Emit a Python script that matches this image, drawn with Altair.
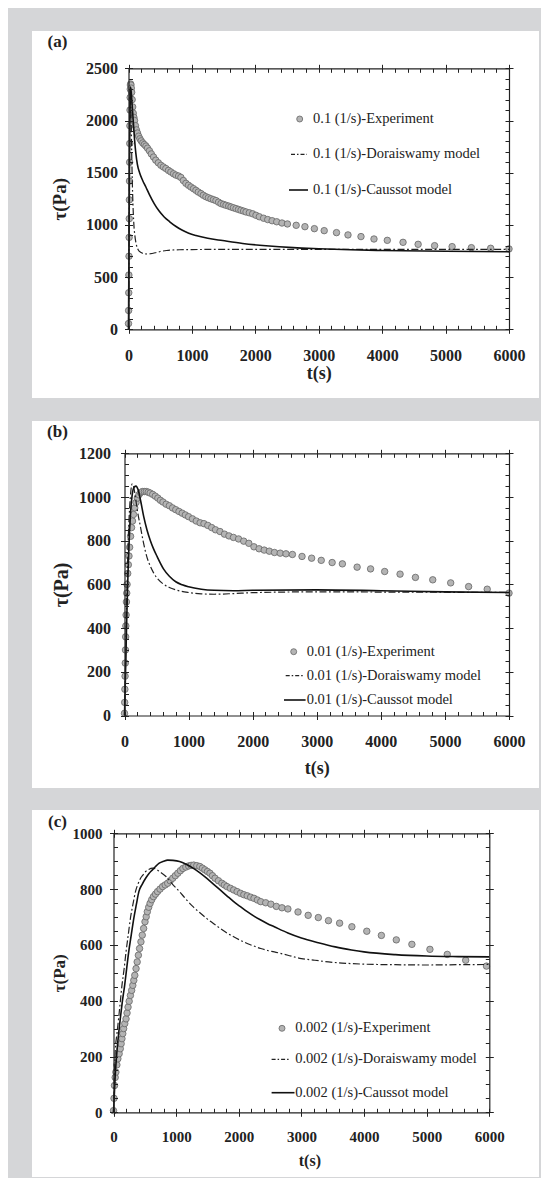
import altair as alt
import pandas as pd

FONT = "Liberation Serif"
INK = "#222222"
BG = "#d5d6d8"
PT_FILL = "#b4b4b4"
PT_EDGE = "#666666"
CW, CH = 533, 1170  # whole drawing area (fits inside the page margins)

# ---------------- data (t [s], tau [Pa]) ----------------
XMAJ = [0, 1000, 2000, 3000, 4000, 5000, 6000]
XALL = list(range(0, 6001, 200))

A_EXP = [(0,55),(2,180),(4,350),(6,520),(8,700),(10,880),(12,1060),(14,1240),(16,1420),(18,1600),
         (20,1780),(22,1950),(24,2100),(26,2220),(28,2300),(30,2340),(34,2350),(38,2340),(44,2310),
         (50,2270),(58,2200),(66,2130),(75,2070),(85,2030),(95,2000),(110,1950),(125,1910),(142,1880),
         (160,1850),(180,1825),(200,1805),(225,1785),(250,1770),(275,1755),(300,1735),(330,1710),
         (360,1680),(395,1650),(430,1620),(470,1595),(511,1571),(550,1555),(589,1540),(630,1522),
         (668,1507),(710,1490),(747,1477),(790,1468),(826,1455),(865,1425),(905,1398),(945,1380),
         (984,1363),(1025,1347),(1063,1331),(1100,1315),(1142,1300),(1180,1284),(1221,1270),
         (1260,1260),(1300,1250),(1340,1242),(1379,1233),(1420,1218),(1458,1204),(1500,1196),
         (1537,1188),(1580,1180),(1616,1172),(1655,1164),(1695,1156),(1735,1148),(1774,1140),
         (1815,1132),(1853,1124),(1905,1116),(1958,1106),(2010,1092),(2063,1078),(2130,1064),
         (2195,1051),(2265,1040),(2337,1030),(2420,1018),(2506,1009),(2644,996),(2782,983),
         (2931,964),(3086,945),(3280,926),(3461,904),(3666,888),(3871,865),(4081,852),(4329,833),
         (4567,814),(4827,801),(5103,792),(5407,782),(5711,776),(6000,770)]
A_DOR = [(0,0),(5,500),(10,1000),(15,1500),(20,1950),(25,2250),(30,2300),(38,2150),(46,1850),
         (55,1550),(65,1300),(75,1120),(85,1000),(100,900),(120,820),(150,765),(200,735),(250,724),
         (300,721),(350,724),(420,733),(500,745),(600,755),(800,762),(1000,764),(1500,765),
         (2000,765),(3000,765),(4000,765),(5000,765),(6000,765)]
A_CAU = [(0,0),(5,500),(10,1000),(15,1500),(20,1950),(25,2250),(30,2320),(40,2290),(55,2170),
         (75,1990),(95,1820),(115,1690),(140,1580),(175,1500),(220,1430),(274,1363),(330,1290),
         (405,1204),(480,1135),(563,1076),(650,1030),(750,985),(850,948),(950,920),(1063,898),
         (1250,872),(1484,850),(1800,822),(2168,800),(2600,782),(3000,772),(3500,762),(4000,755),
         (5000,748),(6000,743)]

B_EXP = [(0,10),(3,60),(6,120),(9,180),(12,240),(15,300),(18,360),(21,410),(25,460),(30,520),
         (35,560),(40,600),(50,650),(60,690),(70,730),(80,770),(95,820),(110,860),(125,890),
         (140,920),(160,950),(180,975),(200,995),(225,1010),(250,1020),(280,1025),(310,1025),
         (340,1025),(370,1022),(400,1018),(440,1012),(480,1004),(520,995),(560,985),(600,977),
         (650,967),(700,960),(750,950),(800,942),(850,934),(900,926),(950,918),(1000,910),
         (1060,900),(1120,890),(1180,882),(1240,878),(1300,870),(1360,860),(1420,850),(1490,842),
         (1560,830),(1630,822),(1700,815),(1780,808),(1860,798),(1940,788),(2020,772),(2100,763),
         (2180,757),(2260,752),(2340,746),(2430,743),(2520,740),(2620,737),(2770,728),(2920,720),
         (3070,710),(3240,700),(3400,694),(3630,679),(3840,671),(4060,659),(4300,647),(4540,632),
         (4810,621),(5090,607),(5370,590),(5660,578),(6000,560)]
B_DOR = [(0,0),(10,150),(20,300),(30,450),(40,600),(50,720),(60,820),(80,950),(100,1030),
         (120,1060),(140,1050),(170,1000),(200,940),(250,862),(300,785),(350,725),(400,685),
         (450,655),(500,632),(600,603),(700,586),(800,575),(1000,563),(1200,557),(1400,555),
         (1700,558),(2000,562),(3000,566),(4000,565),(5000,564),(6000,563)]
B_CAU = [(0,0),(10,120),(20,250),(30,380),(40,500),(60,700),(80,850),(100,950),(120,1010),
         (150,1045),(180,1050),(210,1035),(250,985),(300,910),(350,850),(404,800),(450,765),
         (508,728),(611,670),(700,637),(800,612),(900,598),(1000,589),(1200,578),(1400,573),
         (1700,571),(2000,573),(3000,575),(4000,571),(5000,566),(6000,563)]

C_EXP = [(0,6),(8,50),(16,96),(27,125),(38,144),(54,170),(70,192),(90,210),(108,228),(122,246),
         (135,264),(148,282),(162,300),(180,318),(200,335),(216,356),(232,377),(250,398),(270,419),
         (290,437),(308,455),(324,473),(340,491),(360,515),(378,539),(397,563),(416,587),(438,611),
         (459,635),(481,659),(503,683),(522,701),(540,719),(562,735),(584,749),(610,762),(638,773),
         (670,782),(703,791),(743,800),(784,809),(825,815),(865,821),(905,830),(946,839),(987,848),
         (1027,857),(1068,866),(1108,874),(1155,879),(1200,883),(1240,885),(1281,886),(1330,884),
         (1378,881),(1420,875),(1459,869),(1500,863),(1540,857),(1580,848),(1621,839),(1675,830),
         (1730,821),(1770,815),(1811,809),(1865,803),(1919,797),(1973,791),(2027,785),(2081,780),
         (2135,776),(2189,771),(2243,767),(2297,761),(2351,755),(2430,751),(2513,746),(2600,738),
         (2690,733),(2784,729),(2946,718),(3108,706),(3270,698),(3432,687),(3610,678),(3806,665),
         (4044,649),(4277,634),(4515,618),(4764,602),(5052,584),(5329,566),(5623,545),(5955,524)]
C_DOR = [(0,0),(27,216),(54,280),(81,335),(108,395),(135,455),(170,515),(200,575),(235,635),
         (270,695),(310,745),(351,791),(390,818),(432,839),(475,852),(513,863),(560,870),(621,875),
         (675,872),(740,862),(838,845),(940,818),(1054,791),(1160,763),(1270,737),(1380,715),
         (1486,695),(1600,676),(1703,659),(1810,643),(1919,629),(2030,616),(2135,605),(2240,596),
         (2351,587),(2460,580),(2567,575),(2784,563),(3000,551),(3216,545),(3432,539),(3648,535),
         (4000,531),(4500,529),(5000,528),(5500,529),(6000,530)]
C_CAU = [(0,0),(27,130),(54,216),(81,280),(108,335),(140,395),(178,455),(210,515),(243,575),
         (283,635),(324,695),(365,745),(405,791),(460,818),(513,839),(567,856),(621,869),(675,882),
         (730,893),(800,900),(865,904),(950,903),(1054,899),(1160,889),(1270,875),(1380,858),
         (1486,839),(1595,818),(1703,797),(1810,776),(1919,755),(2027,737),(2135,719),(2243,703),
         (2351,689),(2460,676),(2567,665),(2784,643),(3000,625),(3270,608),(3540,593),(3800,582),
         (4000,575),(4500,565),(5000,560),(5500,558),(6000,557)]

A_LEG = ["0.1 (1/s)-Experiment", "0.1 (1/s)-Doraiswamy model", "0.1 (1/s)-Caussot model"]
B_LEG = ["0.01 (1/s)-Experiment", "0.01 (1/s)-Doraiswamy model", "0.01 (1/s)-Caussot model"]
C_LEG = ["0.002 (1/s)-Experiment", "0.002 (1/s)-Doraiswamy model", "0.002 (1/s)-Caussot model"]

# layout of each panel (pixels inside the drawing area)
PANELS = [
    dict(tag="(a)", exp=A_EXP, dor=A_DOR, cau=A_CAU, leg=A_LEG, ymax=2500,
         ymaj=list(range(0, 2501, 500)), yall=list(range(0, 2501, 100)),
         x0=120.5, x1=501, y0=60.3, y1=321.3, box=(24, 531, 23, 390),
         lfs=16, ylp=7, xlp=14, ytx=-69, ytfs=19, xtfs=18, xty=44, xtdx=0, tagpos=(-71, -26),
         lc=(171.2, 50.7), ltx=184.5, lys=(50.7, 86, 121.7), ldash=(162.5, 178.5), lsol=(160.5, 179.5)),
    dict(tag="(b)", exp=B_EXP, dor=B_DOR, cau=B_CAU, leg=B_LEG, ymax=1200,
         ymaj=list(range(0, 1201, 200)), yall=list(range(0, 1201, 50)),
         x0=116.5, x1=501, y0=445.3, y1=707.5, box=(24, 531, 413, 780),
         lfs=16, ylp=10, xlp=14, ytx=-63, ytfs=20, xtfs=18, xty=53, xtdx=0, tagpos=(-67, -21),
         lc=(169.2, 198.4), ltx=182.2, lys=(198.4, 222.4, 246.7), ldash=(161.2, 178.5), lsol=(159.5, 181.1)),
    dict(tag="(c)", exp=C_EXP, dor=C_DOR, cau=C_CAU, leg=C_LEG, ymax=1000,
         ymaj=list(range(0, 1001, 200)), yall=list(range(0, 1001, 50)),
         x0=105.5, x1=481.3, y0=825.3, y1=1104.3, box=(24, 531, 802, 1169),
         lfs=15, ylp=7.5, xlp=13, ytx=-54.5, ytfs=17, xtfs=16, xty=48, xtdx=8, tagpos=(-56, -11.6),
         lc=(168.5, 195), ltx=181.7, lys=(195, 226, 259.4), ldash=(158.1, 176.5), lsol=(158.1, 181)),
]


def ax(**kw):
    d = dict(grid=False, zindex=3, tickColor=INK, tickWidth=1, domainColor=INK, domainWidth=1.2)
    d.update(kw)
    return alt.Axis(**d)


def panel_layers(p):
    X0, X1, Y0, Y1 = p["x0"], p["x1"], p["y0"], p["y1"]
    xsc = alt.Scale(domain=[0, 6000], range=[X0, X1], nice=False, zero=False)
    ysc = alt.Scale(domain=[0, p["ymax"]], range=[Y1, Y0], nice=False, zero=False)
    exp = pd.DataFrame(p["exp"], columns=["t", "tau"])
    dor = pd.DataFrame(p["dor"], columns=["t", "tau"])
    cau = pd.DataFrame(p["cau"], columns=["t", "tau"])
    one = pd.DataFrame({"k": [0]})

    off_b = Y1 - CH      # bottom axis offset
    off_t = -Y0          # top axis offset
    off_l = -X0          # left axis offset
    off_r = X1 - CW      # right axis offset

    x_main = ax(orient="bottom", offset=off_b, values=XMAJ, format="d", tickSize=4,
                labelFont=FONT, labelFontSize=p["lfs"], labelFontWeight="bold", labelColor=INK,
                labelPadding=p["xlp"], labelFlush=False, labelOverlap=False,
                title="t(s)", titleFont=FONT, titleFontSize=p["xtfs"], titleFontWeight="bold",
                titleColor=INK, titleX=(X0 + X1) / 2 + p["xtdx"], titleY=p["xty"],
                titleAlign="center", titleBaseline="middle")
    y_main = ax(orient="left", offset=off_l, values=p["ymaj"], format="d", tickSize=4,
                labelFont=FONT, labelFontSize=p["lfs"], labelFontWeight="bold", labelColor=INK,
                labelPadding=p["ylp"], labelOverlap=False, labelFlush=False,
                title="τ(Pa)", titleFont=FONT, titleFontSize=p["ytfs"], titleFontWeight="bold",
                titleColor=INK, titleAngle=270, titleX=p["ytx"], titleY=(Y0 + Y1) / 2,
                titleAlign="center", titleBaseline="middle")
    x_top = ax(orient="top", offset=off_t, values=XMAJ, tickSize=4, labels=False, title=None)
    y_right = ax(orient="right", offset=off_r, values=p["ymaj"], tickSize=4, labels=False, title=None)
    x_bin = ax(orient="bottom", offset=off_b - 4, values=XALL, tickSize=4, domain=False,
               labels=False, title=None)
    x_tin = ax(orient="top", offset=off_t - 4, values=XALL, tickSize=4, domain=False,
               labels=False, title=None)
    y_lin = ax(orient="left", offset=off_l - 4, values=p["yall"], tickSize=4, domain=False,
               labels=False, title=None)
    y_rin = ax(orient="right", offset=off_r - 4, values=p["yall"], tickSize=4, domain=False,
               labels=False, title=None)

    bx0, bx1, by0, by1 = p["box"]
    box = alt.Chart(one).mark_rect(fill="white", strokeWidth=0).encode(
        x=alt.value(bx0), x2=alt.value(bx1), y=alt.value(by0), y2=alt.value(by1))

    pts = alt.Chart(exp).mark_circle(size=42, fill=PT_FILL, stroke=PT_EDGE, strokeWidth=0.8,
                                     opacity=1).encode(
        x=alt.X("t:Q", scale=xsc, axis=x_main), y=alt.Y("tau:Q", scale=ysc, axis=y_main))
    dline = alt.Chart(dor).mark_line(color=INK, strokeWidth=1.2, strokeDash=[7, 2.5, 1.8, 2.5],
                                     interpolate="monotone").encode(
        x=alt.X("t:Q", scale=xsc, axis=x_top), y=alt.Y("tau:Q", scale=ysc, axis=y_right))
    cline = alt.Chart(cau).mark_line(color="#111111", strokeWidth=1.6,
                                     interpolate="monotone").encode(
        x=alt.X("t:Q", scale=xsc, axis=x_bin), y=alt.Y("tau:Q", scale=ysc, axis=y_lin))
    ghost = alt.Chart(exp).mark_point(opacity=0).encode(
        x=alt.X("t:Q", scale=xsc, axis=x_tin), y=alt.Y("tau:Q", scale=ysc, axis=y_rin))

    lcx, lcy = p["lc"]
    leg_pt = alt.Chart(one).mark_circle(size=36, fill=PT_FILL, stroke=PT_EDGE, strokeWidth=0.8,
                                        opacity=1).encode(x=alt.value(X0 + lcx), y=alt.value(Y0 + lcy))
    leg_d = alt.Chart(one).mark_rule(color=INK, strokeWidth=1.2, strokeDash=[4, 2, 1.5, 2]).encode(
        x=alt.value(X0 + p["ldash"][0]), x2=alt.value(X0 + p["ldash"][1]),
        y=alt.value(Y0 + p["lys"][1]))
    leg_s = alt.Chart(one).mark_rule(color="#111111", strokeWidth=1.6).encode(
        x=alt.value(X0 + p["lsol"][0]), x2=alt.value(X0 + p["lsol"][1]),
        y=alt.value(Y0 + p["lys"][2]))
    leg_txt = [
        alt.Chart(one).mark_text(text=txt, align="left", baseline="middle", font=FONT,
                                 fontSize=14.5, color=INK).encode(
            x=alt.value(X0 + p["ltx"]), y=alt.value(Y0 + yy))
        for txt, yy in zip(p["leg"], p["lys"])
    ]
    tag = alt.Chart(one).mark_text(text=p["tag"], align="center", baseline="middle", font=FONT,
                                   fontSize=17, fontWeight="bold", color=INK).encode(
        x=alt.value(X0 + p["tagpos"][0]), y=alt.value(Y0 + p["tagpos"][1]))

    return [box], [pts, dline, cline, ghost, leg_pt, leg_d, leg_s, *leg_txt, tag]


boxes, marks = [], []
for p in PANELS:
    b, m = panel_layers(p)
    boxes += b
    marks += m

chart = alt.layer(*boxes, *marks).resolve_scale(
    x="independent", y="independent"
).resolve_axis(
    x="independent", y="independent"
).properties(
    width=CW, height=CH, padding=0, background=BG,
    autosize=alt.AutoSizeParams(type="none"),
).configure_view(strokeWidth=0)

chart.save("out.html", embed_options={"renderer": "svg", "actions": False})
